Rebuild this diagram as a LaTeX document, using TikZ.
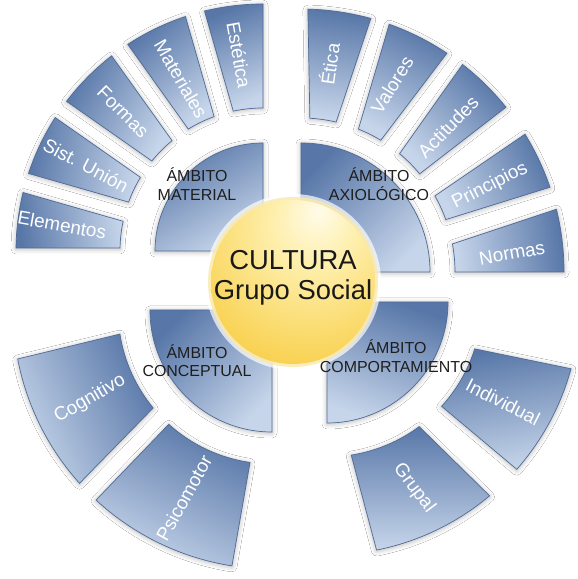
\documentclass[tikz,border=0pt]{standalone}
\usepackage{fontspec}
\setmainfont{Liberation Sans}
\usetikzlibrary{calc,shadows.blur}
\definecolor{segdark}{HTML}{5877A8}
\definecolor{seglight}{HTML}{C6D5EA}
\definecolor{segline}{HTML}{4F6A94}
\definecolor{sunA}{HTML}{FFFBEA}
\definecolor{sunB}{HTML}{FEF0B0}
\definecolor{sunC}{HTML}{F9D458}
\definecolor{sunD}{HTML}{F0B020}
\definecolor{sunE}{HTML}{E9A112}
\definecolor{sunglow}{HTML}{FBE9A8}
\definecolor{quadtext}{HTML}{1E1E1E}
\pgfdeclareradialshading{sunshade}{\pgfpoint{8bp}{22bp}}{color(0bp)=(sunA); color(12bp)=(sunB); color(35bp)=(sunC); color(60bp)=(sunD); color(76bp)=(sunE)}
\tikzset{
  seg/.style={draw=segline, line width=0.7bp, top color=segdark, bottom color=seglight,
    blur shadow={shadow xshift=0bp, shadow yshift=-1bp, shadow blur radius=5bp, shadow opacity=30}},
  quad/.style={draw=segline, line width=0.7bp, top color=segdark, bottom color=seglight,
    blur shadow={shadow xshift=0bp, shadow yshift=-1bp, shadow blur radius=5bp, shadow opacity=30}},
  seglabel/.style={text=white, font=\fontsize{19}{22}\selectfont, inner sep=0pt},
  quadlabel/.style={text=quadtext, font=\fontsize{16}{18.5}\selectfont, align=center, inner sep=0pt},
  sunlabel/.style={text=black!90, font=\fontsize{27.5}{32}\selectfont, inner sep=0pt, anchor=base},
}
% #1 centre, #2 inner radius, #3 outer radius, #4 inner angle A, #5 outer angle A,
% #6 outer angle B, #7 inner angle B, #8 shading angle
\newcommand\ringseg[8]{%
  \path[seg, shading angle=#8] ($(#1)+(#4:#2)$) -- ($(#1)+(#5:#3)$)
    arc[start angle=#5, end angle=#6, radius=#3] -- ($(#1)+(#7:#2)$)
    arc[start angle=#7, end angle=#4, radius=#2] -- cycle;}
\begin{document}
\begin{tikzpicture}[x=1bp, y=1bp]
\fill[white] (0,0) rectangle (578,579);
\useasboundingbox (0,0) rectangle (578,579);

\coordinate (cMat) at (263,328);
\coordinate (cAxi) at (301,307);
\coordinate (cCon) at (272,269);
\coordinate (cCom) at (327,277);
\coordinate (cSun) at (293,297);

% inner quadrants
\path[quad, shading angle=30] (cMat) -- ++(90:108) arc[start angle=90, end angle=180, radius=108] -- cycle;
\path[quad, shading angle=45] (cAxi) -- ++(0:129) arc[start angle=0, end angle=90, radius=129] -- cycle;
\path[quad, shading angle=45] (cCon) -- ++(180:122) arc[start angle=180, end angle=270, radius=122] -- cycle;
\path[quad, shading angle=-20] (cCom) -- ++(270:121) arc[start angle=270, end angle=360, radius=121] -- cycle;

% top-left ring
\ringseg{cMat}{143}{247}{90}{90}{103.7}{102.0}{22}
\ringseg{cMat}{143}{247}{110.0}{108.3}{123.2}{121.5}{41}
\ringseg{cMat}{143}{247}{129.5}{127.8}{142.7}{141.0}{60}
\ringseg{cMat}{143}{247}{149.0}{147.3}{161.7}{160.0}{80}
\ringseg{cMat}{143}{247}{168.0}{166.3}{179.3}{178.8}{98}
% top-right ring
\ringseg{cAxi}{154}{263}{0}{0}{13.8}{10.5}{-83}
\ringseg{cAxi}{154}{263}{19.9}{18.8}{31.6}{29.6}{-65}
\ringseg{cAxi}{154}{263}{39.6}{38.8}{52.1}{50.2}{-45}
\ringseg{cAxi}{154}{263}{58.8}{56.3}{70.4}{68.1}{-27}
\ringseg{cAxi}{154}{263}{76.8}{74.6}{88.5}{86.7}{-8}
% bottom-left ring
\ringseg{cCon}{154}{259}{189.0}{190.9}{222.0}{219.5}{-65}
\ringseg{cCon}{154}{259}{227.9}{227.2}{261.1}{261.8}{-26}
% bottom-right ring
\ringseg{cCom}{155}{253}{-81.0}{-78.7}{-50.0}{-53.5}{0}
\ringseg{cCom}{155}{253}{-42.3}{-41.4}{-15.3}{-17.6}{10}

% centre circle
\fill[white, opacity=0.7] (cSun) circle[radius=88];
\fill[sunglow, opacity=0.8] (cSun) circle[radius=85];
\path[shading=sunshade] (cSun) circle[radius=82];

% texts
\node[sunlabel] (cult1) at (293,309) {CULTURA};
\node[sunlabel] (cult2) at (293,279) {Grupo Social};

\node[quadlabel] (qMat) at (197,395) {ÁMBITO\\MATERIAL};
\node[quadlabel] (qAxi) at (379,395) {ÁMBITO\\AXIOLÓGICO};
\node[quadlabel] (qCon) at (197,218.5) {ÁMBITO\\CONCEPTUAL};
\node[quadlabel] (qCom) at (396,223) {ÁMBITO\\COMPORTAMIENTO};

\node[seglabel, rotate=-10] (lElem) at (62,354) {Elementos};
\node[seglabel, rotate=-28] (lSist) at (86,414) {Sist. Unión};
\node[seglabel, rotate=-45] (lForm) at (123,467) {Formas};
\node[seglabel, rotate=-60] (lMate) at (181,500) {Materiales};
\node[seglabel, rotate=-80] (lEste) at (239,524) {Estética};
\node[seglabel, rotate=82] (lEtic) at (329,515) {Ética};
\node[seglabel, rotate=58] (lValo) at (392,494) {Valores};
\node[seglabel, rotate=46] (lActi) at (448,452) {Actitudes};
\node[seglabel, rotate=27] (lPrin) at (490,393) {Principios};
\node[seglabel, rotate=10] (lNorm) at (512,326) {Normas};
\node[seglabel, rotate=30] (lCogn) at (90,180) {Cognitivo};
\node[seglabel, rotate=61] (lPsic) at (184,81) {Psicomotor};
\node[seglabel, rotate=-27] (lIndi) at (503,177) {Individual};
\node[seglabel, rotate=-53] (lGrup) at (414,91) {Grupal};
\end{tikzpicture}
\end{document}
